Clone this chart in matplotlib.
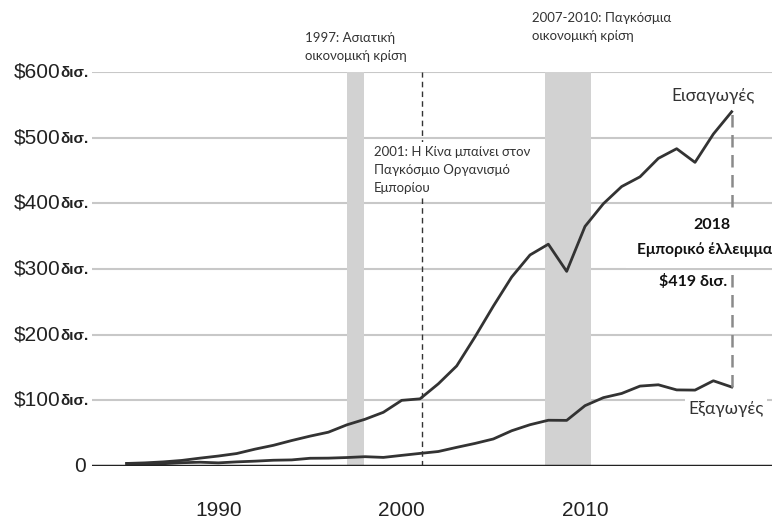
import numpy as np
import matplotlib.pyplot as plt

# US trade with China, billions of dollars
years = list(range(1985, 2019))
imports = [3.9, 4.8, 6.3, 8.5, 12.0, 15.2, 19.0, 25.7, 31.5, 38.8, 45.5, 51.5,
           62.6, 71.2, 81.8, 100.0, 102.3, 125.2, 152.4, 196.7, 243.5, 287.8,
           321.4, 337.8, 296.4, 364.9, 399.4, 425.6, 440.4, 468.5, 483.2,
           462.4, 505.5, 539.5]
exports = [3.9, 3.1, 3.5, 5.0, 5.8, 4.8, 6.3, 7.4, 8.8, 9.3, 11.8, 12.0,
           12.9, 14.2, 13.1, 16.2, 19.2, 22.1, 28.4, 34.4, 41.2, 53.7,
           62.9, 69.7, 69.5, 91.9, 104.1, 110.5, 121.7, 123.7, 115.9,
           115.6, 129.8, 120.3]

yticks = [100, 200, 300, 400, 500, 600]
xticks = [1990, 2000, 2010]

asia_crisis = (1997.0, 1997.95)
global_crisis = (2007.8, 2010.3)
wto_year = 2001.1

note_font = ['Lato', 'Open Sans', 'DejaVu Sans']
tick_font = ['Liberation Sans', 'DejaVu Sans']
dark = '#333333'

fig = plt.figure(figsize=(7.72, 5.28), dpi=100)
ax = fig.add_axes([0.119, 0.1174, 0.881, 0.7462])
ax.set_xlim(1983.1, 2020.2)
ax.set_ylim(0, 600)

for s in ax.spines.values():
    s.set_visible(False)

# grid lines
for v in yticks:
    ax.axhline(v, color='#c8c8c8', lw=1.5, zorder=1)
ax.axhline(0, color='#222222', lw=2.5, zorder=5)

# crisis bands
ax.axvspan(*asia_crisis, ymin=0, ymax=1, color='#d2d2d2', lw=0, zorder=2)
ax.axvspan(*global_crisis, ymin=0, ymax=1, color='#d2d2d2', lw=0, zorder=2)
ax.axvline(wto_year, color=dark, lw=1, ls=(0, (4, 3)), zorder=3)

ax.plot(years, imports, color=dark, lw=2, zorder=4)
ax.plot(years, exports, color=dark, lw=2, zorder=4)

# deficit line
ax.vlines(years[-1], exports[-1], imports[-1], color='#8a8a8a', lw=1.8,
          ls=(0, (5, 3)), zorder=4)

# tick labels
ax.set_xticks(xticks)
ax.set_xticklabels([str(x) for x in xticks], fontsize=15, family=tick_font,
                   color='#222222')
ax.tick_params(axis='x', length=0, pad=25)
ax.set_yticks([])
for v in yticks:
    ax.annotate('\\$%d' % v, (0, v), xycoords=('axes fraction', 'data'),
                xytext=(-31, 0), textcoords='offset pixels', ha='right',
                va='center', fontsize=15, family=tick_font, color='#222222')
    ax.annotate('δισ.', (0, v), xycoords=('axes fraction', 'data'),
                xytext=(-31, -1), textcoords='offset pixels', ha='left',
                va='center', fontsize=11, fontweight='bold',
                family=tick_font, color='#222222')
ax.annotate('0', (0, 0), xycoords=('axes fraction', 'data'),
            xytext=(-6, 0), textcoords='offset pixels', ha='right',
            va='center', fontsize=15, family=tick_font, color='#222222')

# annotations
ax.text(1994.7, 615, '1997: Ασιατική\nοικονομική κρίση', fontsize=9.5,
        family=note_font, color='#333333', va='bottom', ha='left',
        linespacing=1.6, clip_on=False)
ax.text(2007.1, 645, '2007-2010: Παγκόσμια\nοικονομική κρίση', fontsize=9.5,
        family=note_font, color='#333333', va='bottom', ha='left',
        linespacing=1.6, clip_on=False)
ax.text(1998.5, 488, '2001: Η Κίνα μπαίνει στον\nΠαγκόσμιο Οργανισμό\nΕμπορίου',
        fontsize=9.5, family=note_font, color='#333333', va='top', ha='left',
        linespacing=1.6, zorder=6,
        bbox=dict(boxstyle='square,pad=0.3', fc='white', ec='none'))
ax.text(2016.97, 563, 'Εισαγωγές', fontsize=12.5, family=note_font,
        color='#333333', ha='center', va='center', zorder=6)
ax.text(2017.7, 87, 'Εξαγωγές', fontsize=12.5, family=note_font,
        color='#333333', ha='center', va='center', zorder=6,
        bbox=dict(boxstyle='square,pad=0.2', fc='white', ec='none'))

# deficit labels
ax.text(2016.95, 367, '2018', fontsize=11.5, family=note_font,
        fontweight='bold', color='#111111', ha='center', va='center',
        zorder=6, bbox=dict(boxstyle='square,pad=0.5', fc='white', ec='none'))
ax.text(2016.5, 329, 'Εμπορικό έλλειμμα', fontsize=11.2, family=note_font,
        fontweight='bold', color='#111111', ha='center', va='center',
        zorder=6, clip_on=False,
        bbox=dict(boxstyle='square,pad=0.7', fc='white', ec='none'))
ax.text(2015.9, 281, '$419 δισ.', fontsize=11.5, family=note_font,
        fontweight='bold', color='#111111', ha='center', va='center',
        zorder=6, bbox=dict(boxstyle='square,pad=0.2', fc='white', ec='none'))

fig.savefig('out.png', dpi=100)
